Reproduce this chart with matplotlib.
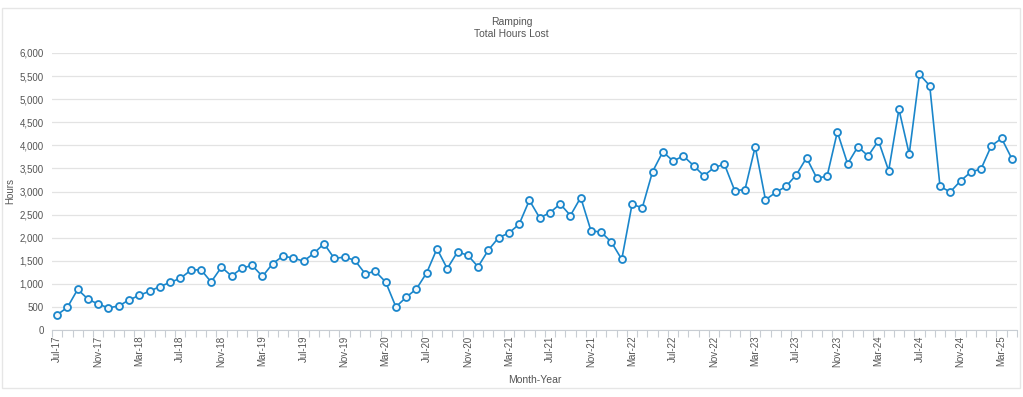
import matplotlib
matplotlib.use('Agg')
import matplotlib.pyplot as plt
from matplotlib.patches import Rectangle

plt.rcParams['font.family'] = ['Liberation Sans', 'DejaVu Sans']

months = ['Jul', 'Aug', 'Sep', 'Oct', 'Nov', 'Dec', 'Jan', 'Feb', 'Mar', 'Apr', 'May', 'Jun']
# Jul-17 .. Apr-25
labels = []
yr = 17
for i in range(94):
    m = months[i % 12]
    if m == 'Jan':
        yr += 1
    labels.append(f'{m}-{yr}')

hours = [330, 490, 880, 670, 560, 480, 520, 650, 750, 840, 940, 1030,
         1120, 1290, 1310, 1040, 1360, 1170, 1340, 1400, 1160, 1440, 1600, 1560,
         1490, 1660, 1870, 1550, 1580, 1510, 1220, 1270, 1040, 500, 710, 890,
         1240, 1760, 1330, 1690, 1620, 1370, 1730, 2000, 2100, 2290, 2810, 2430,
         2540, 2730, 2480, 2870, 2150, 2120, 1900, 1530, 2720, 2650, 3430, 3860,
         3660, 3770, 3560, 3340, 3520, 3590, 3020, 3040, 3970, 2820, 2980, 3110,
         3360, 3730, 3290, 3330, 4290, 3600, 3970, 3770, 4100, 3450, 4780, 3810,
         5540, 5290, 3110, 2990, 3230, 3420, 3490, 3990, 4150, 3710]

txt = '#555555'
blue = '#1a86cb'

fig = plt.figure(figsize=(10.23, 3.97), dpi=100)
fig.patches.append(Rectangle((2 / 1023, 9 / 397), 1018 / 1023, 380 / 397, transform=fig.transFigure,
                             fill=False, edgecolor='#e6e6e6', linewidth=1))
ax = fig.add_axes([52 / 1023, 67 / 397, 965 / 1023, 277 / 397])

x = list(range(len(hours)))
ax.plot(x, hours, color=blue, linewidth=1.2, marker='o', markersize=5,
        markerfacecolor='#f4f8fb', markeredgecolor=blue, markeredgewidth=1.3, zorder=3)

ax.set_xlim(-0.5, len(hours) - 0.5)
ax.set_ylim(0, 6000)
ax.set_yticks(range(0, 6001, 500))
ax.set_yticklabels([f'{v:,}' for v in range(0, 6001, 500)], fontsize=7, color=txt)
ax.tick_params(axis='y', length=0, pad=6)

ax.set_xticks([i - 0.5 for i in range(len(hours) + 1)], minor=True)
ax.set_xticks(x[::4])
ax.set_xticklabels(labels[::4], rotation=90, fontsize=7, color=txt)
ax.tick_params(axis='x', which='major', length=0, pad=4)
ax.tick_params(axis='x', which='minor', length=5, color='#c8cdd3', width=0.8)

ax.grid(axis='y', color='#e3e3e3', linewidth=0.9)
ax.set_axisbelow(True)
for s in ['top', 'right', 'left']:
    ax.spines[s].set_visible(False)
ax.spines['bottom'].set_color('#c8cdd3')

fig.text(10 / 1023, 1 - 191 / 397, 'Hours', rotation=90, ha='center', va='center', fontsize=7, color=txt)
ax.set_xlabel('Month-Year', fontsize=7.5, color=txt, labelpad=6)
fig.text(0.5, 1 - 22 / 397, 'Ramping', ha='center', va='center', fontsize=7.5, color=txt)
fig.text(0.5, 1 - 34 / 397, 'Total Hours Lost', ha='center', va='center', fontsize=7.5, color=txt)

fig.savefig('out.png', dpi=100)
